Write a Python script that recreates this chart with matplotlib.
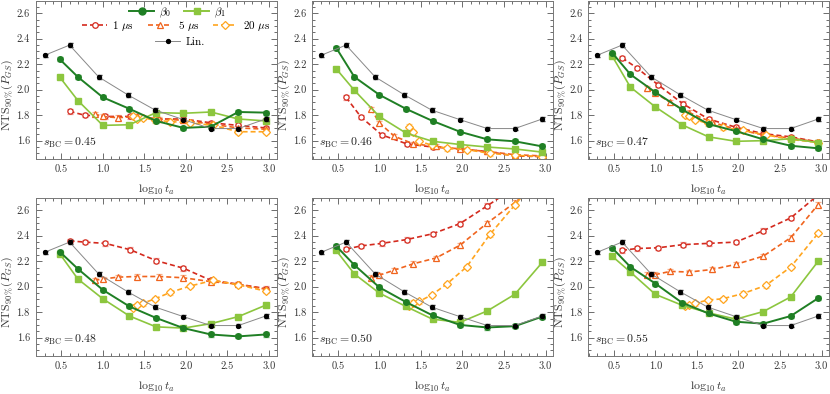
import numpy as np
import matplotlib
matplotlib.use("Agg")
import matplotlib.pyplot as plt
from matplotlib.ticker import MultipleLocator

plt.rcParams['font.family'] = 'serif'
plt.rcParams['font.serif'] = ['cmr10', 'DejaVu Serif']
plt.rcParams['mathtext.fontset'] = 'cm'
plt.rcParams['axes.formatter.use_mathtext'] = True

# x positions (log10 t_a)
x_lin = [0.30, 0.60, 0.95, 1.30, 1.63, 1.97, 2.30, 2.63, 2.96]
x_beta = [0.48, 0.70, 1.00, 1.32, 1.64, 1.97, 2.30, 2.63, 2.96]
x_1us = [0.60, 0.78, 1.03, 1.33, 1.64, 1.97, 2.30, 2.63, 2.96]
x_5us = [0.90, 1.00, 1.18, 1.41, 1.68, 1.97, 2.30, 2.63, 2.96]
x_20us = [1.36, 1.41, 1.48, 1.63, 1.81, 2.05, 2.33, 2.63, 2.96]

s_bc = ['0.45', '0.46', '0.47', '0.48', '0.50', '0.55']

lin = [2.27, 2.35, 2.10, 1.96, 1.84, 1.765, 1.695, 1.695, 1.77]

beta0 = [
    [2.24, 2.10, 1.94, 1.85, 1.755, 1.70, 1.71, 1.825, 1.82],
    [2.33, 2.10, 1.96, 1.85, 1.755, 1.67, 1.61, 1.595, 1.555],
    [2.29, 2.12, 1.98, 1.845, 1.73, 1.675, 1.61, 1.56, 1.54],
    [2.275, 2.14, 1.975, 1.845, 1.755, 1.675, 1.625, 1.61, 1.625],
    [2.32, 2.17, 1.995, 1.88, 1.775, 1.70, 1.68, 1.69, 1.765],
    [2.305, 2.155, 2.025, 1.875, 1.79, 1.725, 1.71, 1.77, 1.91],
]
beta1 = [
    [2.10, 1.915, 1.72, 1.725, 1.82, 1.815, 1.825, 1.77, 1.755],
    [2.165, 1.995, 1.79, 1.66, 1.595, 1.57, 1.55, 1.535, 1.51],
    [2.265, 2.02, 1.865, 1.725, 1.63, 1.595, 1.60, 1.615, 1.585],
    [2.26, 2.06, 1.905, 1.77, 1.685, 1.675, 1.71, 1.765, 1.855],
    [2.285, 2.10, 1.95, 1.845, 1.745, 1.72, 1.81, 1.94, 2.19],
    [2.24, 2.115, 1.94, 1.855, 1.795, 1.745, 1.805, 1.92, 2.20],
]
t1us = [
    [1.83, 1.80, 1.79, 1.79, 1.77, 1.77, 1.74, 1.72, 1.70],
    [1.94, 1.785, 1.645, 1.575, 1.55, 1.535, 1.515, 1.48, 1.475],
    [2.25, 2.17, 2.04, 1.89, 1.77, 1.705, 1.655, 1.63, 1.59],
    [2.36, 2.35, 2.34, 2.29, 2.205, 2.145, 2.05, 2.02, 1.985],
    [2.295, 2.32, 2.34, 2.37, 2.415, 2.495, 2.635, 2.78, 2.95],
    [2.285, 2.30, 2.305, 2.33, 2.34, 2.35, 2.44, 2.54, 2.72],
]
t5us = [
    [1.81, 1.79, 1.78, 1.79, 1.77, 1.76, 1.73, 1.70, 1.69],
    [1.85, 1.74, 1.635, 1.575, 1.555, 1.535, 1.515, 1.49, 1.48],
    [2.01, 1.975, 1.90, 1.82, 1.745, 1.69, 1.645, 1.62, 1.59],
    [2.05, 2.06, 2.075, 2.08, 2.08, 2.07, 2.04, 2.02, 1.98],
    [2.07, 2.09, 2.13, 2.18, 2.225, 2.325, 2.50, 2.66, 2.83],
    [2.095, 2.095, 2.12, 2.115, 2.135, 2.175, 2.24, 2.385, 2.645],
]
t20us = [
    [1.79, 1.77, 1.78, 1.76, 1.75, 1.74, 1.72, 1.67, 1.67],
    [1.71, 1.665, 1.595, 1.565, 1.54, 1.53, 1.50, 1.485, 1.475],
    [1.805, 1.79, 1.765, 1.735, 1.705, 1.68, 1.645, 1.61, 1.585],
    [1.835, 1.855, 1.87, 1.905, 1.955, 2.005, 2.05, 2.015, 1.965],
    [1.845, 1.875, 1.885, 1.935, 2.02, 2.155, 2.41, 2.64, 2.90],
    [1.85, 1.855, 1.87, 1.895, 1.905, 1.945, 2.01, 2.155, 2.42],
]

c_b0 = '#1f7f24'
c_b1 = '#8cc63e'
c_1 = '#d42a1e'
c_5 = '#f0641e'
c_20 = '#ffa51f'

fig = plt.figure(figsize=(8.3, 3.94), dpi=100)
W, H = 830, 394
lefts = [35.5, 312, 588]
tops = [0.5, 197.5]
aw, ah = 241, 158

axes = []
for r in range(2):
    for c in range(3):
        ax = fig.add_axes([lefts[c] / W, 1 - (tops[r] + ah) / H, aw / W, ah / H])
        axes.append(ax)

dash = (0, (3, 1.8))
for i, ax in enumerate(axes):
    ax.errorbar(x_lin, lin, yerr=0.014, color='#888888', lw=0.7, marker='o', ms=2.8,
                mfc='black', mec='black', ecolor='#333333', elinewidth=0.6, capsize=1.8, zorder=5)
    ax.errorbar(x_beta, beta0[i], yerr=0.016, color=c_b0, lw=1.4, marker='o', ms=4,
                ecolor='#7fbf7f', elinewidth=0.8, capsize=2, zorder=4)
    ax.errorbar(x_beta, beta1[i], yerr=0.012, color=c_b1, lw=1.2, marker='s', ms=4.2,
                ecolor='#bfe09a', elinewidth=0.8, capsize=2, zorder=3)
    ax.errorbar(x_1us, t1us[i], yerr=0.018, color=c_1, lw=1.2, ls=dash, marker='o', ms=3.8,
                mfc='white', mec=c_1, mew=0.9, ecolor='#ef9a94', elinewidth=0.8, capsize=2, zorder=2)
    ax.errorbar(x_5us, t5us[i], yerr=0.018, color=c_5, lw=1.2, ls=dash, marker='^', ms=4.2,
                mfc='white', mec=c_5, mew=0.9, ecolor='#f7b08c', elinewidth=0.8, capsize=2, zorder=2)
    ax.errorbar(x_20us, t20us[i], yerr=0.018, color=c_20, lw=1.2, ls=dash, marker='D', ms=3.6,
                mfc='white', mec=c_20, mew=0.9, ecolor='#ffd08a', elinewidth=0.8, capsize=2, zorder=2)

    ax.set_xlim(0.19, 3.09)
    ax.set_ylim(1.46, 2.70)
    ax.xaxis.set_minor_locator(MultipleLocator(0.1))
    ax.yaxis.set_minor_locator(MultipleLocator(0.05))
    ax.set_yticks([1.6, 1.8, 2.0, 2.2, 2.4, 2.6])
    ax.set_yticklabels(['1.6', '1.8', '2.0', '2.2', '2.4', '2.6'])
    ax.set_xticks([0.5, 1.0, 1.5, 2.0, 2.5, 3.0])
    ax.set_xticklabels(['0.5', '1.0', '1.5', '2.0', '2.5', '3.0'])
    ax.tick_params(which='both', direction='in', top=True, right=True, colors='#555555',
                   labelcolor='#333333', labelsize=7.5, width=0.6)
    ax.tick_params(which='major', length=4, pad=4)
    ax.tick_params(which='minor', length=2)
    for sp in ax.spines.values():
        sp.set_color('#777777')
        sp.set_linewidth(0.7)

    ax.set_xlabel(r'$\log_{10} t_a$', fontsize=8.5, color='#333333')
    ax.xaxis.set_label_coords(0.5, -0.2)
    ax.xaxis.label.set_va('center')
    ax.set_ylabel(r'$\mathrm{NTS}_{90\,\%}(P_{GS})$', fontsize=8.5, color='#333333')
    ax.yaxis.label.set_va('center')
    ax.yaxis.set_label_coords(-0.115, 0.40)
    ax.text(0.03, 0.10, r'$s_{\mathrm{BC}} = %s$' % s_bc[i], transform=ax.transAxes,
            fontsize=8.5, color='#222222', va='center', ha='left')

# legends in first panel
ax0 = axes[0]
h_b0 = plt.Line2D([], [], color=c_b0, lw=1.4, marker='o', ms=5)
h_b1 = plt.Line2D([], [], color=c_b1, lw=1.4, marker='s', ms=5)
h_1 = plt.Line2D([], [], color=c_1, lw=1.2, ls=dash, marker='o', ms=4, mfc='white', mew=0.9)
h_5 = plt.Line2D([], [], color=c_5, lw=1.2, ls=dash, marker='^', ms=4.2, mfc='white', mew=0.9)
h_20 = plt.Line2D([], [], color=c_20, lw=1.2, ls=dash, marker='D', ms=3.6, mfc='white', mew=0.9)
h_lin = plt.Line2D([], [], color='#888888', lw=0.7, marker='o', ms=2.8, mfc='black', mec='black')

leg_kw = dict(frameon=False, fontsize=8, handlelength=2.2, handletextpad=0.5,
              columnspacing=1.2, borderaxespad=0, loc='center')
l1 = ax0.legend([h_b0, h_b1], [r'$\beta_0$', r'$\beta_1$'], ncol=2,
                bbox_to_anchor=(0.59, 0.925), **leg_kw)
ax0.add_artist(l1)
l2 = ax0.legend([h_1, h_5, h_20], [r'1 $\mu$s', r'5 $\mu$s', r'20 $\mu$s'], ncol=3,
                bbox_to_anchor=(0.585, 0.84), **leg_kw)
ax0.add_artist(l2)
ax0.legend([h_lin], ['Lin.'], ncol=1, bbox_to_anchor=(0.60, 0.735), **leg_kw)

fig.savefig('out.png', dpi=100)
